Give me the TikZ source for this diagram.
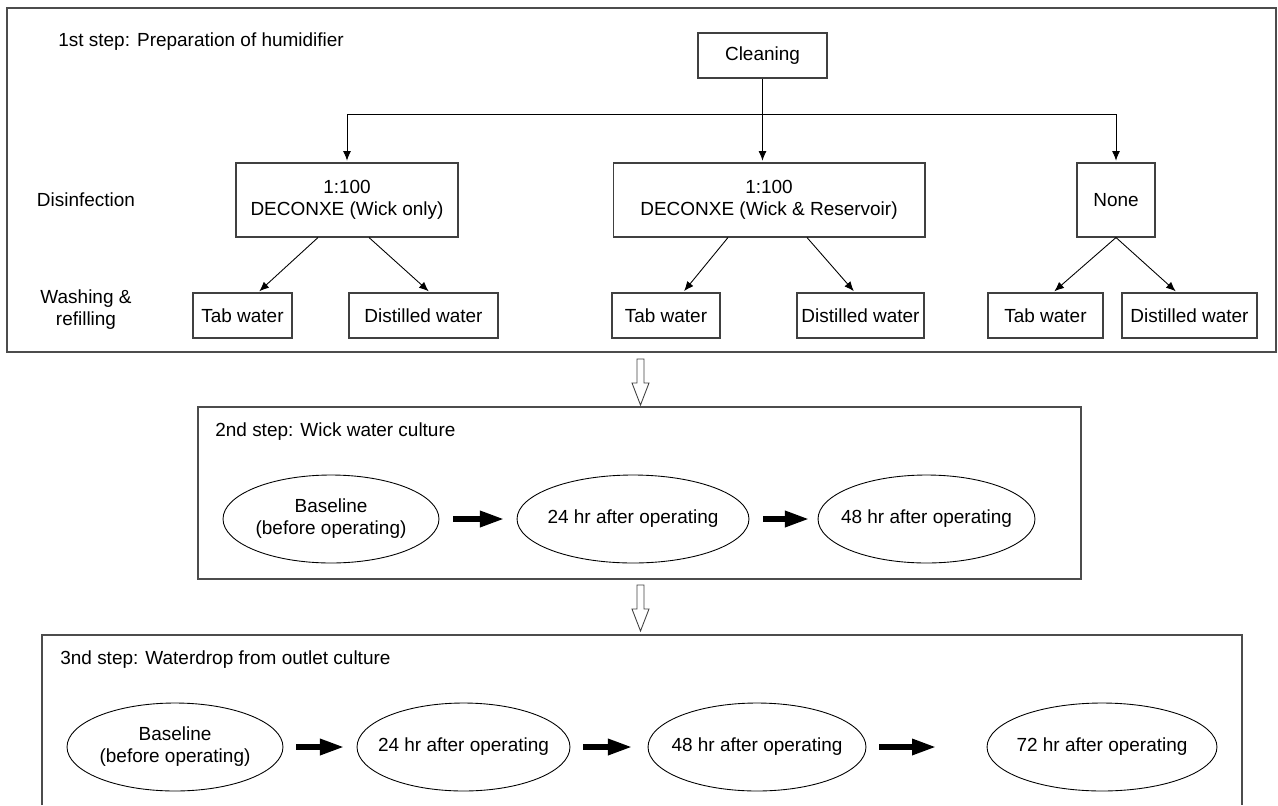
\documentclass[tikz,border=0pt]{standalone}
\usepackage{fontspec}
\setmainfont{Liberation Sans}
\usetikzlibrary{shapes.geometric,arrows.meta}

\begin{document}
\begin{tikzpicture}[x=0.02cm, y=-0.02cm,
    font=\fontsize{10.8}{12.5}\selectfont,
    box/.style={draw=black!75, line width=0.6pt, fill=white, align=center, inner sep=0pt},
    stage/.style={draw=black!70, line width=0.7pt},
    oval/.style={ellipse, draw=black, line width=0.5pt, align=center, minimum width=4.32cm, minimum height=1.76cm, inner xsep=-0.6cm, inner ysep=0pt},
    tip/.style={-{Latex[length=5.5pt,width=4.5pt]}, line width=0.5pt, shorten >=1pt},
    fat/.style={-{Triangle[length=14pt,width=8.5pt]}, line width=3.4pt}]
    \useasboundingbox (0,0) rectangle (1278,805);

    % Step frames (the third one runs off the bottom edge)
    \draw[stage] (7,8) rectangle (1276,352);
    \draw[stage] (198,407) rectangle (1081,579);
    \draw[stage] (42,805) -- (42,635) -- (1242,635) -- (1242,805);

    % Hollow arrows between the steps
    \foreach \y in {359, 585} {
        \draw[black!75, line width=0.5pt] (637,\y) -- (644,\y) -- (644,\y+24) -- (649,\y+24)
            -- (640.5,\y+46) -- (632,\y+24) -- (637,\y+24) -- cycle;
    }

    % Step titles and row labels
    \node[anchor=west, inner sep=0pt] (title1) at (58,42) {1st step: Preparation of humidifier};
    \node[anchor=west, inner sep=0pt] (title2) at (215,432) {2nd step: Wick water culture};
    \node[anchor=west, inner sep=0pt] (title3) at (60,660) {3nd step: Waterdrop from outlet culture};
    \node (rowDis) at (86,200) {Disinfection};
    \node[align=center] (rowWash) at (86,310) {Washing \&\\refilling};

    % Cleaning and disinfection boxes
    \node[box, minimum width=2.58cm, minimum height=0.9cm] (clean) at (762.5,55.5) {Cleaning};
    \node[box, minimum width=4.44cm, minimum height=1.48cm] (disL) at (347,200) {1:100\\DECONXE (Wick only)};
    \node[box, minimum width=6.24cm, minimum height=1.48cm] (disM) at (769,200) {1:100\\DECONXE (Wick \& Reservoir)};
    \node[box, minimum width=1.56cm, minimum height=1.48cm] (disR) at (1116,200) {None};

    % Washing & refilling boxes
    \foreach \n/\x/\w/\t in {tabL/242.5/1.98/Tab water, distL/423.5/2.98/Distilled water,
                             tabM/666/2.16/Tab water, distM/860.5/2.54/Distilled water,
                             tabR/1045.5/2.3/Tab water, distR/1189.5/2.7/Distilled water} {
        \node[box, minimum width=\w cm, minimum height=0.9cm] (\n) at (\x,315.5) {\t};
    }

    % Branching from cleaning
    \coordinate (split) at (762.5,114);
    \draw[line width=0.5pt] (disL.north |- split) -- (disR.north |- split);
    \draw[tip] (clean.south) -- (clean.south |- disM.north);
    \draw[tip] (disL.north |- split) -- (disL.north);
    \draw[tip] (disR.north |- split) -- (disR.north);

    % Disinfection -> washing
    \foreach \a/\sa/\b/\sb in {disL/-0.58/tabL/0.31, disL/0.44/distL/0.13,
                               disM/-0.82/tabM/0.34, disM/0.76/distM/-0.11,
                               disR/0/tabR/0.15, disR/0/distR/-0.25} {
        \draw[tip] ([xshift=\sa cm]\a.south) -- ([xshift=\sb cm]\b.north);
    }

    % 2nd step: wick water sampling
    \node[oval] (wickA) at (331,519) {Baseline\\(before operating)};
    \node[oval, minimum width=4.64cm] (wickB) at (633,519) {24 hr after operating};
    \node[oval, minimum width=4.34cm] (wickC) at (926.5,519) {48 hr after operating};
    \draw[fat] ([xshift=0.28cm]wickA.east) -- ([xshift=-0.24cm]wickB.west);
    \draw[fat] ([xshift=0.28cm]wickB.east) -- ([xshift=-0.16cm]wickC.west);

    % 3rd step: outlet waterdrop sampling
    \node[oval] (dropA) at (175,747) {Baseline\\(before operating)};
    \node[oval, minimum width=4.26cm] (dropB) at (463.5,747) {24 hr after operating};
    \node[oval, minimum width=4.36cm] (dropC) at (757,747) {48 hr after operating};
    \node[oval, minimum width=4.6cm] (dropD) at (1102,747) {72 hr after operating};
    \draw[fat] ([xshift=0.26cm]dropA.east) -- ([xshift=-0.24cm]dropB.west);
    \draw[fat] ([xshift=0.26cm]dropB.east) -- ([xshift=-0.3cm]dropC.west);
    \draw[fat] ([xshift=0.26cm]dropC.east) -- ([xshift=-1.0cm]dropD.west);
\end{tikzpicture}
\end{document}
